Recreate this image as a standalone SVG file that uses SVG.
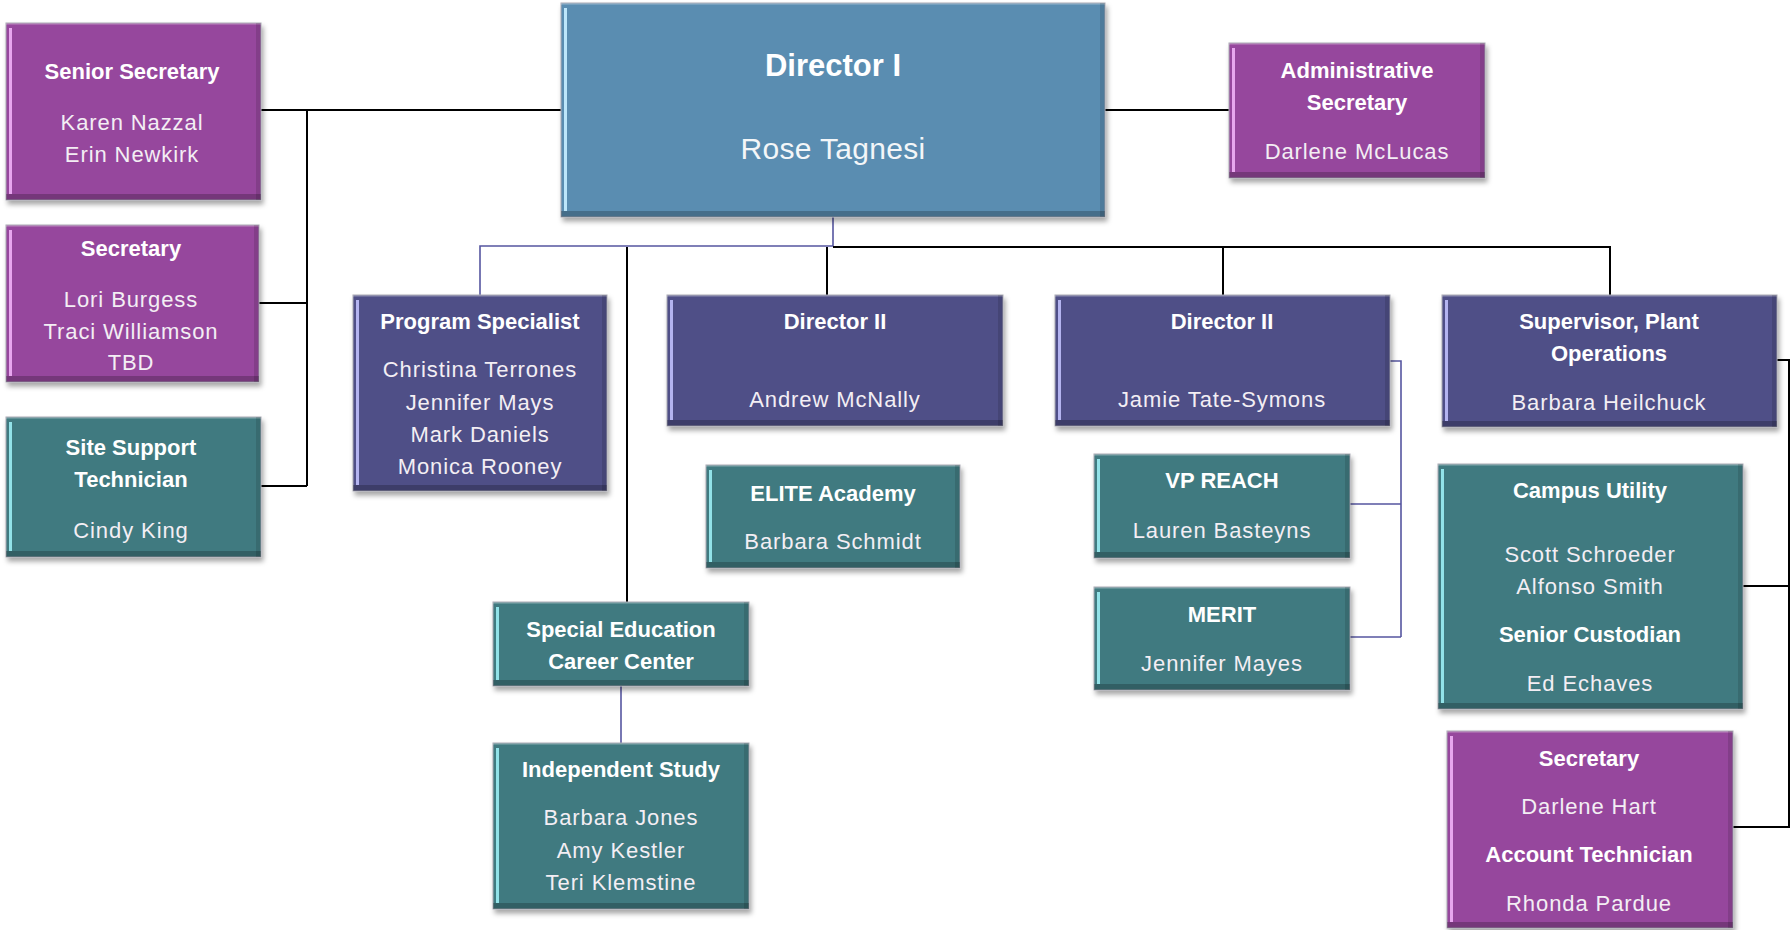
<svg xmlns="http://www.w3.org/2000/svg" width="1792" height="930" viewBox="0 0 1792 930">
<defs>
<filter id="sh" x="-5%" y="-5%" width="112%" height="120%">
<feDropShadow dx="2" dy="4" stdDeviation="2.5" flood-color="#000" flood-opacity="0.35"/>
</filter>
<style>
.box{filter:url(#sh);stroke:#a9a9b4;stroke-width:1}
.pu{fill:#96479d}
.te{fill:#3f7a80}
.in{fill:#4f4f87}
.bl{fill:#5a8db1}
.hpu{fill:#e7a6ee}
.hte{fill:#92e2e8}
.hin{fill:#b4b4f0}
.hbl{fill:#bde6fa}
.bt{fill:#000;fill-opacity:0.22}
.rt{fill:#000;fill-opacity:0.12}
.tp{fill:#fff;fill-opacity:0.18}
text{font-family:"Liberation Sans",Arial,sans-serif;text-anchor:middle;fill:#fff}
.t{font-size:22px;font-weight:bold}
.n{font-size:22px;letter-spacing:0.9px;fill:#f3eef4}
.bt1{font-size:31px;font-weight:bold}
.bn1{font-size:30px;letter-spacing:0.3px;fill:#f3f6f8}
.k{fill:none;stroke:#000;stroke-width:2}
.v{fill:none;stroke:#5656a0;stroke-width:1.6}
</style>
</defs>

<g id="connectors">
<path class="k" d="M261 110 H561 M307 110 V486 M259 303 H307 M261 486 H307"/>
<path class="k" d="M1105 110 H1229"/>
<path class="v" d="M833 217 V246 H480 V295"/>
<path class="k" d="M833 247 H1610 V295 M827 247 V295 M1223 247 V295 M627 247 V602"/>
<path class="v" d="M1390 361 H1401 V637 M1350 504 H1401 M1350 637 H1401"/>
<path class="k" d="M1777 360 H1789 V827 H1733 M1743 586 H1789"/>
<path class="v" d="M621 686 V743"/>
</g>

<g id="senior-secretary">
<rect class="box pu" x="6" y="23" width="255" height="177"/>
<rect class="tp" x="6" y="23" width="255" height="2"/>
<rect class="hpu" x="9" y="28" width="3" height="166"/>
<rect class="rt" x="256" y="23" width="5" height="177"/>
<rect class="bt" x="6" y="194" width="255" height="6"/>
<text class="t" x="132" y="79">Senior Secretary</text>
<text class="n" x="132" y="130">Karen Nazzal</text>
<text class="n" x="132" y="162">Erin Newkirk</text>
</g>

<g id="secretary-left">
<rect class="box pu" x="6" y="225" width="253" height="157"/>
<rect class="tp" x="6" y="225" width="253" height="2"/>
<rect class="hpu" x="9" y="230" width="3" height="146"/>
<rect class="rt" x="254" y="225" width="5" height="157"/>
<rect class="bt" x="6" y="376" width="253" height="6"/>
<text class="t" x="131" y="256">Secretary</text>
<text class="n" x="131" y="307">Lori Burgess</text>
<text class="n" x="131" y="339">Traci Williamson</text>
<text class="n" x="131" y="370">TBD</text>
</g>

<g id="site-support">
<rect class="box te" x="6" y="417" width="255" height="140"/>
<rect class="tp" x="6" y="417" width="255" height="2"/>
<rect class="hte" x="9" y="422" width="3" height="129"/>
<rect class="rt" x="256" y="417" width="5" height="140"/>
<rect class="bt" x="6" y="551" width="255" height="6"/>
<text class="t" x="131" y="455">Site Support</text>
<text class="t" x="131" y="487">Technician</text>
<text class="n" x="131" y="538">Cindy King</text>
</g>

<g id="director-1">
<rect class="box bl" x="561" y="3" width="544" height="214"/>
<rect class="tp" x="561" y="3" width="544" height="2"/>
<rect class="hbl" x="564" y="8" width="3" height="203"/>
<rect class="rt" x="1100" y="3" width="5" height="214"/>
<rect class="bt" x="561" y="211" width="544" height="6"/>
<text class="bt1" x="833" y="76">Director I</text>
<text class="bn1" x="833" y="159">Rose Tagnesi</text>
</g>

<g id="admin-secretary">
<rect class="box pu" x="1229" y="43" width="256" height="135"/>
<rect class="tp" x="1229" y="43" width="256" height="2"/>
<rect class="hpu" x="1232" y="48" width="3" height="124"/>
<rect class="rt" x="1480" y="43" width="5" height="135"/>
<rect class="bt" x="1229" y="172" width="256" height="6"/>
<text class="t" x="1357" y="78">Administrative</text>
<text class="t" x="1357" y="110">Secretary</text>
<text class="n" x="1357" y="159">Darlene McLucas</text>
</g>

<g id="program-specialist">
<rect class="box in" x="353" y="295" width="254" height="196"/>
<rect class="tp" x="353" y="295" width="254" height="2"/>
<rect class="hin" x="356" y="300" width="3" height="185"/>
<rect class="rt" x="602" y="295" width="5" height="196"/>
<rect class="bt" x="353" y="485" width="254" height="6"/>
<text class="t" x="480" y="329">Program Specialist</text>
<text class="n" x="480" y="377">Christina Terrones</text>
<text class="n" x="480" y="410">Jennifer Mays</text>
<text class="n" x="480" y="442">Mark Daniels</text>
<text class="n" x="480" y="474">Monica Rooney</text>
</g>

<g id="director-2-mcnally">
<rect class="box in" x="667" y="295" width="336" height="131"/>
<rect class="tp" x="667" y="295" width="336" height="2"/>
<rect class="hin" x="670" y="300" width="3" height="120"/>
<rect class="rt" x="998" y="295" width="5" height="131"/>
<rect class="bt" x="667" y="420" width="336" height="6"/>
<text class="t" x="835" y="329">Director II</text>
<text class="n" x="835" y="407">Andrew McNally</text>
</g>

<g id="director-2-tate-symons">
<rect class="box in" x="1055" y="295" width="335" height="131"/>
<rect class="tp" x="1055" y="295" width="335" height="2"/>
<rect class="hin" x="1058" y="300" width="3" height="120"/>
<rect class="rt" x="1385" y="295" width="5" height="131"/>
<rect class="bt" x="1055" y="420" width="335" height="6"/>
<text class="t" x="1222" y="329">Director II</text>
<text class="n" x="1222" y="407">Jamie Tate-Symons</text>
</g>

<g id="supervisor-plant-operations">
<rect class="box in" x="1442" y="295" width="335" height="132"/>
<rect class="tp" x="1442" y="295" width="335" height="2"/>
<rect class="hin" x="1445" y="300" width="3" height="121"/>
<rect class="rt" x="1772" y="295" width="5" height="132"/>
<rect class="bt" x="1442" y="421" width="335" height="6"/>
<text class="t" x="1609" y="329">Supervisor, Plant</text>
<text class="t" x="1609" y="361">Operations</text>
<text class="n" x="1609" y="410">Barbara Heilchuck</text>
</g>

<g id="elite-academy">
<rect class="box te" x="706" y="465" width="254" height="103"/>
<rect class="tp" x="706" y="465" width="254" height="2"/>
<rect class="hte" x="709" y="470" width="3" height="92"/>
<rect class="rt" x="955" y="465" width="5" height="103"/>
<rect class="bt" x="706" y="562" width="254" height="6"/>
<text class="t" x="833" y="501">ELITE Academy</text>
<text class="n" x="833" y="549">Barbara Schmidt</text>
</g>

<g id="vp-reach">
<rect class="box te" x="1094" y="454" width="256" height="104"/>
<rect class="tp" x="1094" y="454" width="256" height="2"/>
<rect class="hte" x="1097" y="459" width="3" height="93"/>
<rect class="rt" x="1345" y="454" width="5" height="104"/>
<rect class="bt" x="1094" y="552" width="256" height="6"/>
<text class="t" x="1222" y="488">VP REACH</text>
<text class="n" x="1222" y="538">Lauren Basteyns</text>
</g>

<g id="merit">
<rect class="box te" x="1094" y="587" width="256" height="103"/>
<rect class="tp" x="1094" y="587" width="256" height="2"/>
<rect class="hte" x="1097" y="592" width="3" height="92"/>
<rect class="rt" x="1345" y="587" width="5" height="103"/>
<rect class="bt" x="1094" y="684" width="256" height="6"/>
<text class="t" x="1222" y="622">MERIT</text>
<text class="n" x="1222" y="671">Jennifer Mayes</text>
</g>

<g id="campus-utility">
<rect class="box te" x="1438" y="464" width="305" height="245"/>
<rect class="tp" x="1438" y="464" width="305" height="2"/>
<rect class="hte" x="1441" y="469" width="3" height="234"/>
<rect class="rt" x="1738" y="464" width="5" height="245"/>
<rect class="bt" x="1438" y="703" width="305" height="6"/>
<text class="t" x="1590" y="498">Campus Utility</text>
<text class="n" x="1590" y="562">Scott Schroeder</text>
<text class="n" x="1590" y="594">Alfonso Smith</text>
<text class="t" x="1590" y="642">Senior Custodian</text>
<text class="n" x="1590" y="691">Ed Echaves</text>
</g>

<g id="secretary-right">
<rect class="box pu" x="1447" y="731" width="286" height="197"/>
<rect class="tp" x="1447" y="731" width="286" height="2"/>
<rect class="hpu" x="1450" y="736" width="3" height="186"/>
<rect class="rt" x="1728" y="731" width="5" height="197"/>
<rect class="bt" x="1447" y="922" width="286" height="6"/>
<text class="t" x="1589" y="766">Secretary</text>
<text class="n" x="1589" y="814">Darlene Hart</text>
<text class="t" x="1589" y="862">Account Technician</text>
<text class="n" x="1589" y="911">Rhonda Pardue</text>
</g>

<g id="special-education-career-center">
<rect class="box te" x="493" y="602" width="256" height="84"/>
<rect class="tp" x="493" y="602" width="256" height="2"/>
<rect class="hte" x="496" y="607" width="3" height="73"/>
<rect class="rt" x="744" y="602" width="5" height="84"/>
<rect class="bt" x="493" y="680" width="256" height="6"/>
<text class="t" x="621" y="637">Special Education</text>
<text class="t" x="621" y="669">Career Center</text>
</g>

<g id="independent-study">
<rect class="box te" x="493" y="743" width="256" height="166"/>
<rect class="tp" x="493" y="743" width="256" height="2"/>
<rect class="hte" x="496" y="748" width="3" height="155"/>
<rect class="rt" x="744" y="743" width="5" height="166"/>
<rect class="bt" x="493" y="903" width="256" height="6"/>
<text class="t" x="621" y="777">Independent Study</text>
<text class="n" x="621" y="825">Barbara Jones</text>
<text class="n" x="621" y="858">Amy Kestler</text>
<text class="n" x="621" y="890">Teri Klemstine</text>
</g>
</svg>
